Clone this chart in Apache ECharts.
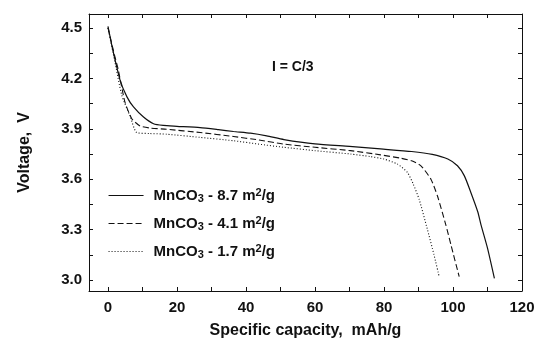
<!DOCTYPE html>
<html>
<head>
<meta charset="utf-8">
<script src="https://cdn.jsdelivr.net/npm/echarts@6/dist/echarts.min.js"></script>
<style>html,body{margin:0;padding:0;background:#fff}#c{width:538px;height:344px}</style>
</head>
<body>
<div id="c"></div>
<script>
var xTickLabels = [0, 20, 40, 60, 80, 100, 120];
var yTickLabels = [3.0, 3.3, 3.6, 3.9, 4.2, 4.5];
var xMinorTicks = [0, 10, 20, 30, 40, 50, 60, 70, 80, 90, 100, 110, 120];
var yMinorTicks = [3.0, 3.15, 3.3, 3.45, 3.6, 3.75, 3.9, 4.05, 4.2, 4.35, 4.5];

var seriesNames = ['8.7', '4.1', '1.7'];

var s1x = [0, 1.5, 3.5, 5.5, 7.4, 10.3, 13.2, 16, 20, 26.7, 32, 36.4, 41.3, 46, 51, 60, 70, 79, 88, 94, 98.5, 101.3, 103.3, 105.2, 107.2, 108.1, 110, 112];
var s1y = [4.51, 4.36, 4.19, 4.09, 4.03, 3.97, 3.93, 3.92, 3.915, 3.907, 3.895, 3.884, 3.874, 3.858, 3.836, 3.81, 3.795, 3.78, 3.765, 3.748, 3.72, 3.68, 3.62, 3.52, 3.405, 3.33, 3.19, 3.01];

var s2x = [0, 2, 3, 4.9, 6.9, 9.3, 12, 17, 26.7, 36.4, 43.6, 51, 60, 70.3, 79, 84.9, 88, 90.7, 93.6, 95.5, 97.9, 99.4, 101.8];
var s2y = [4.5, 4.33, 4.25, 4.06, 3.96, 3.917, 3.905, 3.897, 3.878, 3.854, 3.834, 3.809, 3.79, 3.77, 3.745, 3.725, 3.71, 3.68, 3.60, 3.50, 3.33, 3.21, 3.02];

var s3x = [0, 2, 4, 6.4, 8.3, 12, 17, 26.7, 36.4, 43.6, 51, 60, 70.3, 76, 80, 83.9, 86.8, 88.5, 90.2, 92.6, 94.5, 96];
var s3y = [4.5, 4.3, 4.1, 3.976, 3.878, 3.872, 3.868, 3.849, 3.829, 3.809, 3.79, 3.77, 3.75, 3.735, 3.72, 3.69, 3.64, 3.57, 3.48, 3.30, 3.15, 3.02];

function pairs(xs, ys) { return xs.map(function (x, i) { return [x, ys[i]]; }); }

var FONT = "'Liberation Sans', Arial, sans-serif";
var INK = '#111';

var chart = echarts.init(document.getElementById('c'));

function mkX(pos, show) {
  return {
    type: 'value', position: pos, min: -5.5, max: 120,
    axisLine: { show: true, onZero: false, lineStyle: { color: INK, width: 1 } },
    axisTick: { show: true, inside: true, length: 4, customValues: xMinorTicks, lineStyle: { color: INK } },
    axisLabel: { show: show, customValues: xTickLabels, margin: 9, color: INK, fontFamily: FONT, fontWeight: 'bold', fontSize: 15 },
    splitLine: { show: false },
    name: show ? 'Specific capacity,  mAh/g' : '',
    nameLocation: 'middle', nameGap: 32,
    nameTextStyle: { color: INK, fontFamily: FONT, fontWeight: 'bold', fontSize: 16 }
  };
}
function mkY(pos, show) {
  return {
    type: 'value', position: pos, min: 2.935, max: 4.583,
    axisLine: { show: true, onZero: false, lineStyle: { color: INK, width: 1 } },
    axisTick: { show: true, inside: true, length: 4, customValues: yMinorTicks, lineStyle: { color: INK } },
    axisLabel: { show: show, customValues: yTickLabels, margin: 7, color: INK, fontFamily: FONT, fontWeight: 'bold', fontSize: 15,
      formatter: function (v) { return v.toFixed(1); } },
    splitLine: { show: false },
    name: show ? 'Voltage,  V' : '',
    nameLocation: 'middle', nameGap: 56,
    nameTextStyle: { color: INK, fontFamily: FONT, fontWeight: 'bold', fontSize: 16 }
  };
}

var rich = {
  a: { fontFamily: FONT, fontWeight: 'bold', fontSize: 15, color: INK, lineHeight: 17, verticalAlign: 'middle' },
  s: { fontFamily: FONT, fontWeight: 'bold', fontSize: 11, color: INK, lineHeight: 11, verticalAlign: 'bottom' },
  p: { fontFamily: FONT, fontWeight: 'bold', fontSize: 11, color: INK, lineHeight: 11, verticalAlign: 'top' }
};

function line(name, data, type) {
  return {
    name: name, type: 'line', data: data, showSymbol: false, symbol: 'none', smooth: 0.2,
    xAxisIndex: 0, yAxisIndex: 0,
    lineStyle: { color: INK, width: type === 'solid' ? 1.2 : 1.1, type: type === 'dashed' ? [6, 3] : (type === 'dotted' ? [1, 2] : 'solid') },
    itemStyle: { color: INK },
    animation: false
  };
}

chart.setOption({
  animation: false,
  backgroundColor: '#fff',
  grid: { left: 89, right: 16, top: 14, bottom: 51 },
  title: {
    text: 'I = C/3', left: 267, top: 55,
    textStyle: { fontFamily: FONT, fontWeight: 'bold', fontSize: 14, color: INK }
  },
  legend: {
    orient: 'vertical', left: 108, top: 187, padding: 0,
    itemWidth: 35, itemHeight: 14, itemGap: 11,
    itemStyle: { opacity: 0 },
    lineStyle: { width: 1.1 },
    data: seriesNames,
    formatter: function (n) { return '{a|MnCO}{s|3}{a| - ' + n + ' m}{p|2}{a|/g}'; },
    textStyle: { rich: rich, padding: [0, 0, 0, 5] }
  },
  xAxis: [mkX('bottom', true), mkX('top', false)],
  yAxis: [mkY('left', true), mkY('right', false)],
  series: [
    line(seriesNames[0], pairs(s1x, s1y), 'solid'),
    line(seriesNames[1], pairs(s2x, s2y), 'dashed'),
    line(seriesNames[2], pairs(s3x, s3y), 'dotted')
  ]
});
</script>
</body>
</html>
